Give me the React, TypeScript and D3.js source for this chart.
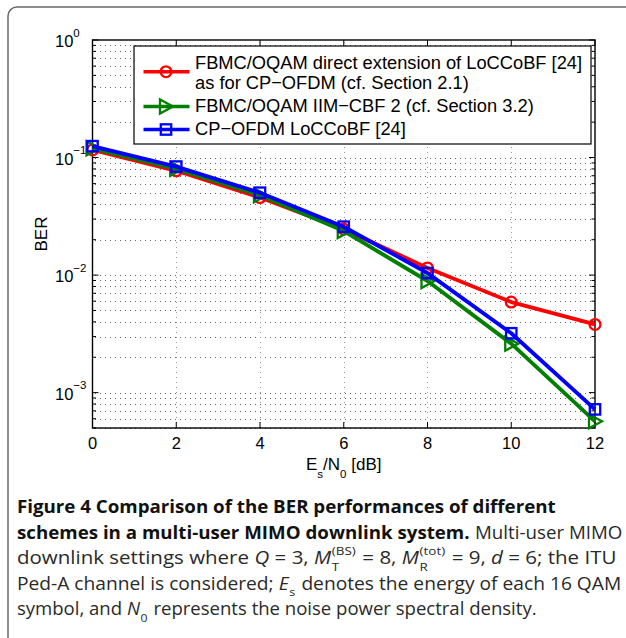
import React, { useEffect, useRef } from "react";
import * as d3 from "d3";

// ---------- data ----------
const SNR_DB = [0, 2, 4, 6, 8, 10, 12];
const BER_FBMC_DIRECT = [0.116, 0.0772, 0.0457, 0.0246, 0.0115, 0.0059, 0.0038];
const BER_FBMC_IIM = [0.12, 0.0800, 0.0478, 0.0237, 0.0089, 0.00261, 0.00057];
const BER_CP_OFDM = [0.125, 0.0838, 0.0502, 0.0258, 0.0104, 0.0032, 0.00072];

const X_TICKS = [0, 2, 4, 6, 8, 10, 12];
const Y_TICK_EXPONENTS = [0, -1, -2, -3];

const LEGEND_LABELS = [
  ["FBMC/OQAM direct extension of LoCCoBF [24]", "as for CP\u2212OFDM (cf. Section 2.1)"],
  ["FBMC/OQAM IIM\u2212CBF 2 (cf. Section 3.2)"],
  ["CP\u2212OFDM LoCCoBF [24]"],
];

type Seg = { t?: string; b?: boolean; i?: boolean; sub?: string; sup?: string };
const CAPTION_LINES: Seg[][] = [
  [{ t: "Figure 4 Comparison of the BER performances of different", b: true }],
  [{ t: "schemes in a multi-user MIMO downlink system.", b: true }, { t: " Multi-user MIMO" }],
  [
    { t: "downlink settings where " },
    { t: "Q", i: true },
    { t: " = 3, " },
    { t: "M", i: true },
    { sub: "T", sup: "(BS)" },
    { t: " = 8, " },
    { t: "M", i: true },
    { sub: "R", sup: "(tot)" },
    { t: " = 9, " },
    { t: "d", i: true },
    { t: " = 6; the ITU" },
  ],
  [
    { t: "Ped-A channel is considered; " },
    { t: "E", i: true },
    { sub: "s" },
    { t: " denotes the energy of each 16 QAM" },
  ],
  [
    { t: "symbol, and " },
    { t: "N", i: true },
    { sub: "0" },
    { t: " represents the noise power spectral density." },
  ],
];

// ---------- layout ----------
const W = 626;
const H = 638;
const PLOT = { left: 92.5, right: 595, top: 40, bottom: 428 };
const CAPTION_X = 17;
const CAPTION_BASELINES = [513, 538.5, 564, 589.5, 615];
const CAPTION_WIDTHS = [539, 605.5, 599.5, 604.5, 520];

const COLORS = { red: "#ff0000", green: "#008000", blue: "#0000ff" };
const CHART_FONT = "'Liberation Sans', Arial, Helvetica, sans-serif";
const CAPTION_FONT = "'Open Sans', 'Noto Sans', sans-serif";

function Marker({ kind, cx, cy, color }: { kind: string; cx: number; cy: number; color: string }) {
  if (kind === "circle")
    return <circle cx={cx} cy={cy} r={5.4} fill="none" stroke={color} strokeWidth={2.3} />;
  if (kind === "tri")
    return (
      <polygon
        points={`${cx + 7},${cy} ${cx - 6},${cy - 7} ${cx - 6},${cy + 7}`}
        fill="none"
        stroke={color}
        strokeWidth={2.3}
        strokeLinejoin="miter"
      />
    );
  return <rect x={cx - 5.2} y={cy - 5.2} width={10.4} height={10.4} fill="none" stroke={color} strokeWidth={2.3} />;
}

export default function App() {
  const capRef = useRef<SVGGElement>(null);

  const x = d3.scaleLinear().domain([0, 12]).range([PLOT.left, PLOT.right]);
  const y = d3.scaleLog().domain([5e-4, 1]).range([PLOT.bottom, PLOT.top]);

  const series = [
    { values: BER_FBMC_DIRECT, color: COLORS.red, marker: "circle" },
    { values: BER_FBMC_IIM, color: COLORS.green, marker: "tri" },
    { values: BER_CP_OFDM, color: COLORS.blue, marker: "square" },
  ];

  const line = d3
    .line<number>()
    .x((_, i) => x(SNR_DB[i]))
    .y((d) => y(d));

  const yMajor = Y_TICK_EXPONENTS.map((e) => Math.pow(10, e));
  const yMinor: number[] = [];
  for (let e = -4; e < 0; e++) {
    for (let m = 2; m <= 9; m++) {
      const v = m * Math.pow(10, e);
      if (v >= 5e-4 && v <= 1) yMinor.push(v);
    }
  }
  const crisp = (v: number) => Math.round(v) + 0.5;

  useEffect(() => {
    const g = d3.select(capRef.current);
    g.selectAll("*").remove();
    CAPTION_LINES.forEach((segs, li) => {
      const lg = g.append("g");
      let cx = 0;
      segs.forEach((s) => {
        if (s.sub !== undefined || s.sup !== undefined) {
          let w = 0;
          if (s.sub !== undefined) {
            const t = lg
              .append("text")
              .attr("x", cx + 0.5)
              .attr("y", 6.5)
              .attr("font-size", 11.5)
              .style("white-space", "pre")
              .text(s.sub);
            w = Math.max(w, (t.node() as SVGTextElement).getComputedTextLength());
          }
          if (s.sup !== undefined) {
            const t = lg
              .append("text")
              .attr("x", cx + 0.5)
              .attr("y", -9.5)
              .attr("font-size", 11.5)
              .style("white-space", "pre")
              .text(s.sup);
            w = Math.max(w, (t.node() as SVGTextElement).getComputedTextLength());
          }
          cx += w + 1.5;
        } else {
          const t = lg
            .append("text")
            .attr("x", cx)
            .attr("y", 0)
            .attr("font-weight", s.b ? 700 : 400)
            .attr("font-style", s.i ? "italic" : "normal")
            .attr("fill", s.b ? "#111" : "#2a2a2a")
            .style("white-space", "pre")
            .text(s.t || "");
          cx += (t.node() as SVGTextElement).getComputedTextLength();
        }
      });
      const k = CAPTION_WIDTHS[li] / cx;
      lg.attr("transform", `translate(${CAPTION_X},${CAPTION_BASELINES[li]}) scale(${k},1)`);
    });
  }, []);

  const legendRows = [
    { y: 71.7, textYs: [68.5, 88.5], ...series[0], labels: LEGEND_LABELS[0] },
    { y: 106.5, textYs: [112], ...series[1], labels: LEGEND_LABELS[1] },
    { y: 129.5, textYs: [134.5], ...series[2], labels: LEGEND_LABELS[2] },
  ];

  return (
    <svg
      width={W}
      height={H}
      style={{ position: "absolute", left: 0, top: 0, background: "#fff", display: "block" }}
    >
      <rect x={0} y={0} width={W} height={H} fill="#fff" />
      <rect x={8} y={7} width={700} height={700} rx={9} fill="none" stroke="#6a6a6a" strokeWidth={1.5} />

      <g fontFamily={CHART_FONT} fill="#000">
        {/* grid */}
        <g stroke="#666" strokeWidth={1} strokeDasharray="1,4" shapeRendering="crispEdges">
          {[...yMajor, ...yMinor]
            .filter((v) => v < 1)
            .map((v, i) => (
              <line key={"gy" + i} x1={PLOT.left + 2} x2={PLOT.right} y1={crisp(y(v))} y2={crisp(y(v))} />
            ))}
          {X_TICKS.filter((v) => v > 0 && v < 12).map((v) => (
            <line key={"gx" + v} x1={crisp(x(v))} x2={crisp(x(v))} y1={PLOT.top + 2} y2={PLOT.bottom} stroke="#999" />
          ))}
        </g>

        {/* ticks */}
        <g stroke="#000" strokeWidth={1}>
          {X_TICKS.map((v) => (
            <g key={"tx" + v}>
              <line x1={x(v)} x2={x(v)} y1={PLOT.bottom} y2={PLOT.bottom - 6} />
              <line x1={x(v)} x2={x(v)} y1={PLOT.top} y2={PLOT.top + 6} />
            </g>
          ))}
          {yMajor.map((v, i) => (
            <g key={"ty" + i}>
              <line x1={PLOT.left} x2={PLOT.left + 6} y1={y(v)} y2={y(v)} />
              <line x1={PLOT.right} x2={PLOT.right - 6} y1={y(v)} y2={y(v)} />
            </g>
          ))}
          {yMinor.map((v, i) => (
            <g key={"tym" + i}>
              <line x1={PLOT.left} x2={PLOT.left + 3.5} y1={y(v)} y2={y(v)} />
              <line x1={PLOT.right} x2={PLOT.right - 3.5} y1={y(v)} y2={y(v)} />
            </g>
          ))}
        </g>

        <rect
          x={PLOT.left}
          y={PLOT.top}
          width={PLOT.right - PLOT.left}
          height={PLOT.bottom - PLOT.top}
          fill="none"
          stroke="#000"
          strokeWidth={1.4}
        />

        {X_TICKS.map((v) => (
          <text key={"lx" + v} x={x(v)} y={449} fontSize={16.5} textAnchor="middle">
            {v}
          </text>
        ))}
        {Y_TICK_EXPONENTS.map((e) => {
          const ty = y(Math.pow(10, e));
          return (
            <text key={"ly" + e} x={55} y={ty + 7} fontSize={16.5}>
              10
              <tspan fontSize={11.5} dy={-10.5}>
                {e === 0 ? "0" : "\u2212" + Math.abs(e)}
              </tspan>
            </text>
          );
        })}

        <text x={(PLOT.left + PLOT.right) / 2} y={470} fontSize={17} textAnchor="middle">
          E<tspan fontSize={11.5} dy={8}>s</tspan>
          <tspan dy={-8}>/N</tspan>
          <tspan fontSize={11.5} dy={8}>0</tspan>
          <tspan dy={-8}> [dB]</tspan>
        </text>
        <text transform={`translate(47,${(PLOT.top + PLOT.bottom) / 2}) rotate(-90)`} fontSize={17} textAnchor="middle">
          BER
        </text>

        {series.map((s, si) => (
          <g key={"s" + si}>
            <path d={line(s.values) || ""} fill="none" stroke={s.color} strokeWidth={3.9} strokeLinejoin="round" />
            {s.values.map((v, i) => (
              <Marker key={i} kind={s.marker} cx={x(SNR_DB[i])} cy={y(v)} color={s.color} />
            ))}
          </g>
        ))}

        <rect x={134} y={46} width={457} height={98} fill="#fff" stroke="#000" strokeWidth={1.2} />
        {legendRows.map((r, ri) => (
          <g key={"lg" + ri}>
            <line x1={143.5} x2={189.5} y1={r.y} y2={r.y} stroke={r.color} strokeWidth={3.6} />
            <Marker kind={r.marker} cx={166} cy={r.y} color={r.color} />
            {r.labels.map((lab, k) => (
              <text key={k} x={195} y={r.textYs[k]} fontSize={18.3}>
                {lab}
              </text>
            ))}
          </g>
        ))}
      </g>

      <g ref={capRef} fontFamily={CAPTION_FONT} fontSize={17.5} fill="#2a2a2a" />
    </svg>
  );
}
